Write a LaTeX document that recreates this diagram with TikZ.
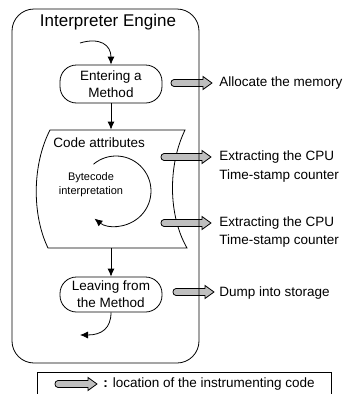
\documentclass[tikz,border=0pt]{standalone}
\usepackage{fontspec}
\setmainfont{Liberation Sans}
\usetikzlibrary{arrows.meta}
\newcommand\instarrow[3]{%
  \draw[iarrowstyle] (#1+3,#2-3.5) -- (#3-9,#2-3.5) -- (#3-9,#2-6.5) -- (#3,#2) -- (#3-9,#2+6.5) -- (#3-9,#2+3.5) -- (#1+3,#2+3.5) .. controls (#1-1,#2+3.5) and (#1-1,#2-3.5) .. cycle;}
\begin{document}
\begin{tikzpicture}[x=1pt,y=-1pt, line width=0.8pt,
  every node/.style={inner sep=0pt, font=\fontsize{13.5}{17}\selectfont},
  term/.style={draw, rounded corners=16.5pt, minimum width=102pt, align=center},
  arr/.style={-{Latex[length=8pt,width=7pt]}},
  iarrowstyle/.style={draw, fill=gray!50, line width=0.8pt},
  lbl/.style={anchor=west, align=left, font=\fontsize{13.5}{18.5}\selectfont}]
\useasboundingbox (0,0) rectangle (344,394);
\node (title) at (108,22) {\fontsize{17}{20}\selectfont Interpreter Engine};
\node[term, minimum height=38pt] (enter) at (111,84) {Entering a\\Method};
\node[minimum width=135pt, minimum height=118pt] (code) at (117.5,189) {};
\draw (50,130) -- (185,130) .. controls (168,165) and (168,215) .. (187,248) -- (48,248) .. controls (32,215) and (32,165) .. (50,130) -- cycle;
\node[anchor=west] (codelbl) at (53,143) {Code attributes};
\node[align=center, font=\fontsize{11}{14}\selectfont] (byte) at (91,185) {Bytecode\\interpretation};
\draw[arr] ([shift={(-130:35)}]116,191) arc[start angle=-130, end angle=128, radius=35];
\node[term, minimum height=35pt] (leave) at (111,294.5) {Leaving from\\the Method};
\coordinate (in) at (80,43);
\coordinate (out) at (80,335);
\draw[arr] (in) .. controls (100,37) and (111,45) .. (enter.north);
\draw[arr] (enter.south) -- (enter.south |- code.north);
\draw[arr] (enter.south |- code.south) -- (leave.north);
\draw[arr] (leave.south) .. controls (111,328) and (102,335) .. (out);
\instarrow{171}{83}{212}
\instarrow{161}{157}{211}
\instarrow{161}{223}{211}
\instarrow{173}{292}{214}
\draw[rounded corners=22pt] (12,9) rectangle (199,363);
\node[lbl] (l1) at (219,83) {Allocate the memory};
\node[lbl] (l2) at (219,166.5) {Extracting the CPU\\Time-stamp counter};
\node[lbl] (l3) at (219,232) {Extracting the CPU\\Time-stamp counter};
\node[lbl] (l4) at (219,293) {Dump into storage};
\draw (37,396) -- (37,372) -- (331,372) -- (331,396);
\instarrow{55}{384}{97}
\node[anchor=west] (leg) at (103,384) {\textbf{:} location of the instrumenting code};
\end{tikzpicture}
\end{document}
